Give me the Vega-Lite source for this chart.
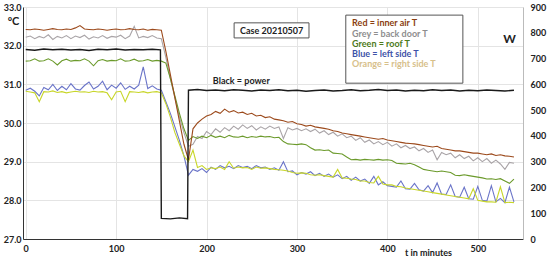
{
  "$schema": "https://vega.github.io/schema/vega-lite/v6.json",
  "width": 500,
  "height": 232,
  "autosize": "none",
  "padding": {"left": 23, "top": 7, "right": 27, "bottom": 21},
  "background": "white",
  "config": {
    "font": "Lato",
    "view": {"stroke": null},
    "axis": {"labelFont": "Lato", "labelFontWeight": "bold", "labelFontSize": 9, "labelColor": "#222", "labelOverlap": false, "titleFont": "Lato", "titleFontWeight": "bold", "titleColor": "#222", "ticks": false, "gridColor": "#e4e4e4", "gridWidth": 1}
  },
  "datasets": {
    "red": [
      {"t":0,"v":32.42},{"t":5,"v":32.41},{"t":10,"v":32.43},{"t":15,"v":32.42},{"t":20,"v":32.40},{"t":25,"v":32.42},{"t":30,"v":32.44},{"t":35,"v":32.42},{"t":40,"v":32.41},{"t":45,"v":32.43},{"t":50,"v":32.42},{"t":55,"v":32.46},{"t":60,"v":32.52},{"t":65,"v":32.43},{"t":70,"v":32.42},{"t":75,"v":32.41},{"t":80,"v":32.43},{"t":85,"v":32.42},{"t":90,"v":32.40},{"t":95,"v":32.42},{"t":100,"v":32.43},{"t":105,"v":32.41},{"t":110,"v":32.42},{"t":115,"v":32.44},{"t":120,"v":32.42},{"t":125,"v":32.41},{"t":130,"v":32.43},{"t":135,"v":32.40},{"t":140,"v":32.42},{"t":145,"v":32.41},{"t":150,"v":32.40},
      {"t":155,"v":31.85},{"t":160,"v":31.25},{"t":165,"v":30.65},{"t":170,"v":30.05},{"t":175,"v":29.45},{"t":180,"v":29.05},{"t":185,"v":29.85},{"t":190,"v":30.00},{"t":195,"v":30.10},{"t":200,"v":30.18},{"t":205,"v":30.22},{"t":210,"v":30.30},{"t":215,"v":30.25},{"t":220,"v":30.36},{"t":225,"v":30.28},{"t":230,"v":30.32},{"t":235,"v":30.26},{"t":240,"v":30.28},{"t":245,"v":30.22},{"t":250,"v":30.25},{"t":255,"v":30.18},{"t":260,"v":30.20},{"t":265,"v":30.14},{"t":270,"v":30.16},{"t":275,"v":30.10},{"t":280,"v":30.08},{"t":285,"v":30.06},{"t":290,"v":30.02},{"t":295,"v":30.04},{"t":300,"v":29.98},{"t":305,"v":29.96},{"t":310,"v":29.92},{"t":315,"v":29.94},{"t":320,"v":29.90},{"t":325,"v":29.88},{"t":330,"v":29.86},{"t":335,"v":29.84},{"t":340,"v":29.80},{"t":345,"v":29.78},{"t":350,"v":29.74},{"t":355,"v":29.72},{"t":360,"v":29.70},{"t":365,"v":29.68},{"t":370,"v":29.66},{"t":375,"v":29.64},{"t":380,"v":29.62},{"t":385,"v":29.60},{"t":390,"v":29.58},{"t":395,"v":29.60},{"t":400,"v":29.56},{"t":405,"v":29.54},{"t":410,"v":29.52},{"t":415,"v":29.50},{"t":420,"v":29.48},{"t":425,"v":29.47},{"t":430,"v":29.46},{"t":435,"v":29.44},{"t":440,"v":29.42},{"t":445,"v":29.40},{"t":450,"v":29.38},{"t":455,"v":29.40},{"t":460,"v":29.34},{"t":465,"v":29.32},{"t":470,"v":29.30},{"t":475,"v":29.28},{"t":480,"v":29.28},{"t":485,"v":29.26},{"t":490,"v":29.24},{"t":495,"v":29.22},{"t":500,"v":29.22},{"t":505,"v":29.20},{"t":510,"v":29.18},{"t":515,"v":29.20},{"t":520,"v":29.16},{"t":525,"v":29.18},{"t":530,"v":29.15},{"t":535,"v":29.14},{"t":540,"v":29.12}
    ],
    "grey": [
      {"t":0,"v":32.22},{"t":5,"v":32.25},{"t":10,"v":32.18},{"t":15,"v":32.24},{"t":20,"v":32.20},{"t":25,"v":32.28},{"t":30,"v":32.16},{"t":35,"v":32.24},{"t":40,"v":32.20},{"t":45,"v":32.26},{"t":50,"v":32.18},{"t":55,"v":32.25},{"t":60,"v":32.21},{"t":65,"v":32.27},{"t":70,"v":32.17},{"t":75,"v":32.23},{"t":80,"v":32.20},{"t":85,"v":32.26},{"t":90,"v":32.19},{"t":95,"v":32.24},{"t":100,"v":32.22},{"t":105,"v":32.27},{"t":110,"v":32.18},{"t":115,"v":32.25},{"t":120,"v":32.50},{"t":125,"v":32.20},{"t":130,"v":32.24},{"t":135,"v":32.21},{"t":140,"v":32.26},{"t":145,"v":32.20},{"t":150,"v":32.18},
      {"t":155,"v":31.70},{"t":160,"v":31.15},{"t":165,"v":30.65},{"t":170,"v":30.15},{"t":175,"v":29.75},{"t":180,"v":29.40},{"t":185,"v":29.45},{"t":190,"v":29.65},{"t":195,"v":29.60},{"t":200,"v":29.78},{"t":205,"v":29.70},{"t":210,"v":29.85},{"t":215,"v":29.76},{"t":220,"v":29.88},{"t":225,"v":29.80},{"t":230,"v":29.92},{"t":235,"v":29.84},{"t":240,"v":29.95},{"t":245,"v":29.86},{"t":250,"v":29.93},{"t":255,"v":29.82},{"t":260,"v":29.90},{"t":265,"v":29.84},{"t":270,"v":29.92},{"t":275,"v":29.86},{"t":280,"v":29.90},{"t":285,"v":29.60},{"t":290,"v":29.88},{"t":295,"v":29.82},{"t":300,"v":29.86},{"t":305,"v":29.80},{"t":310,"v":29.85},{"t":315,"v":29.78},{"t":320,"v":29.84},{"t":325,"v":29.74},{"t":330,"v":29.80},{"t":335,"v":29.70},{"t":340,"v":29.76},{"t":345,"v":29.66},{"t":350,"v":29.72},{"t":355,"v":29.62},{"t":360,"v":29.66},{"t":365,"v":29.55},{"t":370,"v":29.62},{"t":375,"v":29.50},{"t":380,"v":29.56},{"t":385,"v":29.46},{"t":390,"v":29.52},{"t":395,"v":29.44},{"t":400,"v":29.50},{"t":405,"v":29.40},{"t":410,"v":29.46},{"t":415,"v":29.36},{"t":420,"v":29.42},{"t":425,"v":29.34},{"t":430,"v":29.38},{"t":435,"v":29.28},{"t":440,"v":29.34},{"t":445,"v":29.24},{"t":450,"v":29.30},{"t":455,"v":29.05},{"t":460,"v":29.24},{"t":465,"v":29.18},{"t":470,"v":29.22},{"t":475,"v":29.10},{"t":480,"v":29.18},{"t":485,"v":29.08},{"t":490,"v":29.14},{"t":495,"v":29.02},{"t":500,"v":29.10},{"t":505,"v":29.00},{"t":510,"v":29.08},{"t":515,"v":28.96},{"t":520,"v":29.04},{"t":525,"v":28.94},{"t":530,"v":28.80},{"t":535,"v":28.98},{"t":540,"v":28.96}
    ],
    "green": [
      {"t":0,"v":31.60},{"t":5,"v":31.61},{"t":10,"v":31.66},{"t":15,"v":31.60},{"t":20,"v":31.61},{"t":25,"v":31.66},{"t":30,"v":31.60},{"t":35,"v":31.50},{"t":40,"v":31.61},{"t":45,"v":31.65},{"t":50,"v":31.60},{"t":55,"v":31.62},{"t":60,"v":31.61},{"t":65,"v":31.66},{"t":70,"v":31.60},{"t":75,"v":31.48},{"t":80,"v":31.61},{"t":85,"v":31.64},{"t":90,"v":31.60},{"t":95,"v":31.62},{"t":100,"v":31.61},{"t":105,"v":31.66},{"t":110,"v":31.60},{"t":115,"v":31.61},{"t":120,"v":31.65},{"t":125,"v":31.60},{"t":130,"v":31.61},{"t":135,"v":31.64},{"t":140,"v":31.60},{"t":145,"v":31.62},{"t":150,"v":31.60},
      {"t":155,"v":31.55},{"t":160,"v":31.15},{"t":165,"v":30.70},{"t":170,"v":30.25},{"t":175,"v":29.85},{"t":180,"v":29.55},{"t":185,"v":29.65},{"t":190,"v":29.60},{"t":195,"v":29.66},{"t":200,"v":29.62},{"t":205,"v":29.68},{"t":210,"v":29.63},{"t":215,"v":29.66},{"t":220,"v":29.62},{"t":225,"v":29.68},{"t":230,"v":29.64},{"t":235,"v":29.63},{"t":240,"v":29.66},{"t":245,"v":29.62},{"t":250,"v":29.65},{"t":255,"v":29.63},{"t":260,"v":29.66},{"t":265,"v":29.64},{"t":270,"v":29.65},{"t":275,"v":29.62},{"t":280,"v":29.63},{"t":285,"v":29.52},{"t":290,"v":29.46},{"t":295,"v":29.45},{"t":300,"v":29.44},{"t":305,"v":29.46},{"t":310,"v":29.44},{"t":315,"v":29.36},{"t":320,"v":29.30},{"t":325,"v":29.31},{"t":330,"v":29.29},{"t":335,"v":29.30},{"t":340,"v":29.22},{"t":345,"v":29.21},{"t":350,"v":29.20},{"t":355,"v":29.12},{"t":360,"v":29.05},{"t":365,"v":29.06},{"t":370,"v":29.04},{"t":375,"v":29.06},{"t":380,"v":29.05},{"t":385,"v":29.04},{"t":390,"v":29.06},{"t":395,"v":29.04},{"t":400,"v":29.05},{"t":405,"v":29.03},{"t":410,"v":28.96},{"t":415,"v":28.95},{"t":420,"v":28.94},{"t":425,"v":28.96},{"t":430,"v":28.92},{"t":435,"v":28.86},{"t":440,"v":28.80},{"t":445,"v":28.78},{"t":450,"v":28.76},{"t":455,"v":28.74},{"t":460,"v":28.76},{"t":465,"v":28.74},{"t":470,"v":28.72},{"t":475,"v":28.65},{"t":480,"v":28.64},{"t":485,"v":28.66},{"t":490,"v":28.64},{"t":495,"v":28.62},{"t":500,"v":28.60},{"t":505,"v":28.58},{"t":510,"v":28.55},{"t":515,"v":28.56},{"t":520,"v":28.54},{"t":525,"v":28.56},{"t":530,"v":28.50},{"t":535,"v":28.44},{"t":540,"v":28.55}
    ],
    "blue": [
      {"t":0,"v":30.85},{"t":5,"v":30.90},{"t":10,"v":30.82},{"t":15,"v":30.70},{"t":20,"v":30.92},{"t":25,"v":30.86},{"t":30,"v":31.00},{"t":35,"v":30.84},{"t":40,"v":30.95},{"t":45,"v":30.86},{"t":50,"v":31.02},{"t":55,"v":30.88},{"t":60,"v":30.85},{"t":65,"v":30.97},{"t":70,"v":31.06},{"t":75,"v":30.88},{"t":80,"v":30.95},{"t":85,"v":31.08},{"t":90,"v":30.86},{"t":95,"v":30.98},{"t":100,"v":30.90},{"t":105,"v":31.04},{"t":110,"v":30.87},{"t":115,"v":30.95},{"t":120,"v":30.88},{"t":125,"v":30.98},{"t":130,"v":31.45},{"t":135,"v":30.89},{"t":140,"v":30.96},{"t":145,"v":30.88},{"t":150,"v":30.85},
      {"t":155,"v":30.55},{"t":160,"v":30.25},{"t":165,"v":29.90},{"t":170,"v":29.55},{"t":175,"v":29.15},{"t":180,"v":28.65},{"t":185,"v":28.80},{"t":190,"v":28.75},{"t":195,"v":28.82},{"t":200,"v":28.72},{"t":205,"v":28.86},{"t":210,"v":28.80},{"t":215,"v":28.90},{"t":220,"v":28.84},{"t":225,"v":28.88},{"t":230,"v":28.82},{"t":235,"v":28.90},{"t":240,"v":28.85},{"t":245,"v":28.88},{"t":250,"v":28.82},{"t":255,"v":28.90},{"t":260,"v":28.84},{"t":265,"v":28.86},{"t":270,"v":28.80},{"t":275,"v":28.84},{"t":280,"v":28.78},{"t":285,"v":29.00},{"t":290,"v":28.74},{"t":295,"v":28.76},{"t":300,"v":28.66},{"t":305,"v":28.72},{"t":310,"v":28.68},{"t":315,"v":28.74},{"t":320,"v":28.64},{"t":325,"v":28.70},{"t":330,"v":28.62},{"t":335,"v":28.68},{"t":340,"v":28.60},{"t":345,"v":28.66},{"t":350,"v":28.56},{"t":355,"v":28.62},{"t":360,"v":28.52},{"t":365,"v":28.60},{"t":370,"v":28.50},{"t":375,"v":28.55},{"t":380,"v":28.44},{"t":385,"v":28.62},{"t":390,"v":28.40},{"t":395,"v":28.48},{"t":400,"v":28.38},{"t":405,"v":28.36},{"t":410,"v":28.34},{"t":415,"v":28.50},{"t":420,"v":28.30},{"t":425,"v":28.29},{"t":430,"v":28.44},{"t":435,"v":28.27},{"t":440,"v":28.24},{"t":445,"v":28.38},{"t":450,"v":28.20},{"t":455,"v":28.45},{"t":460,"v":28.16},{"t":465,"v":28.15},{"t":470,"v":28.40},{"t":475,"v":28.10},{"t":480,"v":28.08},{"t":485,"v":28.34},{"t":490,"v":28.04},{"t":495,"v":28.03},{"t":500,"v":28.36},{"t":505,"v":28.00},{"t":510,"v":27.98},{"t":515,"v":28.38},{"t":520,"v":27.96},{"t":525,"v":28.05},{"t":530,"v":27.94},{"t":535,"v":28.34},{"t":540,"v":27.96}
    ],
    "orange": [
      {"t":0,"v":30.82},{"t":5,"v":30.80},{"t":10,"v":30.78},{"t":15,"v":30.55},{"t":20,"v":30.81},{"t":25,"v":30.80},{"t":30,"v":30.83},{"t":35,"v":30.79},{"t":40,"v":30.81},{"t":45,"v":30.78},{"t":50,"v":30.80},{"t":55,"v":30.82},{"t":60,"v":30.80},{"t":65,"v":30.81},{"t":70,"v":30.79},{"t":75,"v":30.82},{"t":80,"v":30.80},{"t":85,"v":30.81},{"t":90,"v":30.78},{"t":95,"v":30.60},{"t":100,"v":30.80},{"t":105,"v":30.82},{"t":110,"v":30.55},{"t":115,"v":30.81},{"t":120,"v":30.80},{"t":125,"v":30.79},{"t":130,"v":30.81},{"t":135,"v":30.78},{"t":140,"v":30.80},{"t":145,"v":30.81},{"t":150,"v":30.78},
      {"t":155,"v":30.50},{"t":160,"v":30.15},{"t":165,"v":29.75},{"t":170,"v":29.45},{"t":175,"v":29.15},{"t":180,"v":29.00},{"t":185,"v":29.30},{"t":190,"v":28.85},{"t":195,"v":28.90},{"t":200,"v":28.80},{"t":205,"v":28.84},{"t":210,"v":28.82},{"t":215,"v":28.86},{"t":220,"v":28.80},{"t":225,"v":29.00},{"t":230,"v":28.83},{"t":235,"v":28.86},{"t":240,"v":28.84},{"t":245,"v":28.85},{"t":250,"v":28.80},{"t":255,"v":28.86},{"t":260,"v":28.83},{"t":265,"v":28.84},{"t":270,"v":28.82},{"t":275,"v":28.80},{"t":280,"v":28.79},{"t":285,"v":28.78},{"t":290,"v":28.76},{"t":295,"v":28.72},{"t":300,"v":28.70},{"t":305,"v":28.71},{"t":310,"v":28.70},{"t":315,"v":28.66},{"t":320,"v":28.65},{"t":325,"v":28.66},{"t":330,"v":28.64},{"t":335,"v":28.62},{"t":340,"v":28.60},{"t":345,"v":28.80},{"t":350,"v":28.58},{"t":355,"v":28.57},{"t":360,"v":28.55},{"t":365,"v":28.54},{"t":370,"v":28.50},{"t":375,"v":28.50},{"t":380,"v":28.46},{"t":385,"v":28.45},{"t":390,"v":28.62},{"t":395,"v":28.42},{"t":400,"v":28.40},{"t":405,"v":28.40},{"t":410,"v":28.36},{"t":415,"v":28.35},{"t":420,"v":28.32},{"t":425,"v":28.30},{"t":430,"v":28.28},{"t":435,"v":28.26},{"t":440,"v":28.24},{"t":445,"v":28.22},{"t":450,"v":28.20},{"t":455,"v":28.18},{"t":460,"v":28.16},{"t":465,"v":28.14},{"t":470,"v":28.12},{"t":475,"v":28.10},{"t":480,"v":28.08},{"t":485,"v":28.06},{"t":490,"v":28.04},{"t":495,"v":28.30},{"t":500,"v":28.00},{"t":505,"v":27.98},{"t":510,"v":27.96},{"t":515,"v":27.96},{"t":520,"v":27.95},{"t":525,"v":28.35},{"t":530,"v":27.94},{"t":535,"v":27.95},{"t":540,"v":27.94}
    ],
    "power": [
      {"t":0,"w":735},{"t":10,"w":732},{"t":20,"w":737},{"t":30,"w":734},{"t":40,"w":736},{"t":50,"w":733},{"t":60,"w":735},{"t":70,"w":731},{"t":80,"w":736},{"t":90,"w":734},{"t":100,"w":737},{"t":110,"w":733},{"t":120,"w":735},{"t":130,"w":734},{"t":140,"w":736},{"t":149,"w":734},{"t":150,"w":80},{"t":160,"w":78},{"t":170,"w":82},{"t":179,"w":79},{"t":180,"w":577},{"t":190,"w":580},{"t":200,"w":576},{"t":210,"w":578},{"t":220,"w":575},{"t":230,"w":579},{"t":240,"w":577},{"t":250,"w":574},{"t":260,"w":578},{"t":270,"w":576},{"t":280,"w":579},{"t":290,"w":575},{"t":300,"w":577},{"t":310,"w":573},{"t":320,"w":576},{"t":330,"w":578},{"t":340,"w":574},{"t":350,"w":576},{"t":360,"w":579},{"t":370,"w":575},{"t":380,"w":577},{"t":390,"w":580},{"t":400,"w":576},{"t":410,"w":578},{"t":420,"w":574},{"t":430,"w":577},{"t":440,"w":575},{"t":450,"w":579},{"t":460,"w":576},{"t":470,"w":578},{"t":480,"w":574},{"t":490,"w":577},{"t":500,"w":575},{"t":510,"w":578},{"t":520,"w":576},{"t":530,"w":574},{"t":540,"w":577}
    ]
  },
  "layer": [
    {
      "encoding": {
        "x": {"field": "t", "type": "quantitative", "scale": {"domain": [-3, 550], "nice": false}, "axis": {"values": [0,100,200,300,400,500], "grid": true, "domainColor": "#333", "labelPadding": 5, "title": "t in minutes", "titleFontSize": 9, "titleAngle": 0, "titleX": 405, "titleY": 13, "titleBaseline": "middle", "titleAlign": "center"}},
        "y": {"field": "v", "type": "quantitative", "scale": {"domain": [27, 33], "nice": false}, "axis": {"values": [27,28,29,30,31,32,33], "tickCount": 7, "labelOverlap": false, "format": ".1f", "grid": true, "domainColor": "#333", "labelPadding": 2, "title": "ºC", "titleFontSize": 11, "titleAngle": 0, "titleX": -10, "titleY": 14, "titleAlign": "center", "titleBaseline": "middle"}}
      },
      "layer": [
        {"data": {"name": "grey"}, "mark": {"type": "line", "color": "#a9a4a7", "strokeWidth": 1.1}},
        {"data": {"name": "green"}, "mark": {"type": "line", "color": "#6b9a2b", "strokeWidth": 1.1}},
        {"data": {"name": "blue"}, "mark": {"type": "line", "color": "#6a74c8", "strokeWidth": 1.1}},
        {"data": {"name": "orange"}, "mark": {"type": "line", "color": "#c8d62a", "strokeWidth": 1.1}},
        {"data": {"name": "red"}, "mark": {"type": "line", "color": "#9c4a1c", "strokeWidth": 1.1}}
      ]
    },
    {
      "data": {"values": [{}]},
      "layer": [
        {"mark": {"type": "rect", "fill": "white", "stroke": "#555", "strokeWidth": 1},
         "encoding": {"x": {"datum": 354}, "x2": {"datum": 483.5}, "y": {"datum": 32.79, "scale": {"domain": [27, 33], "nice": false}, "axis": null}, "y2": {"datum": 31.03}}},
        {"mark": {"type": "rect", "fill": "white", "stroke": "#555", "strokeWidth": 1},
         "encoding": {"x": {"datum": 230.5}, "x2": {"datum": 313.3}, "y": {"datum": 32.59, "scale": {"domain": [27, 33], "nice": false}, "axis": null}, "y2": {"datum": 32.2}}},
        {"mark": {"type": "text", "align": "center", "baseline": "middle", "fontWeight": "bold", "fontSize": 9, "color": "#222"},
         "encoding": {"x": {"datum": 272}, "y": {"datum": 32.39, "scale": {"domain": [27, 33], "nice": false}, "axis": null}, "text": {"value": "Case 20210507"}}},
        {"mark": {"type": "text", "align": "left", "baseline": "middle", "fontWeight": "bold", "fontSize": 9, "color": "#222"},
         "encoding": {"x": {"datum": 207}, "y": {"datum": 31.09, "scale": {"domain": [27, 33], "nice": false}, "axis": null}, "text": {"value": "Black = power"}}},
        {"mark": {"type": "text", "align": "left", "baseline": "middle", "fontWeight": "bold", "fontSize": 9, "color": "#8b4010"},
         "encoding": {"x": {"datum": 361}, "y": {"datum": 32.58, "scale": {"domain": [27, 33], "nice": false}, "axis": null}, "text": {"value": "Red = inner air T"}}},
        {"mark": {"type": "text", "align": "left", "baseline": "middle", "fontWeight": "bold", "fontSize": 9, "color": "#8e8e8e"},
         "encoding": {"x": {"datum": 361}, "y": {"datum": 32.3, "scale": {"domain": [27, 33], "nice": false}, "axis": null}, "text": {"value": "Grey = back door T"}}},
        {"mark": {"type": "text", "align": "left", "baseline": "middle", "fontWeight": "bold", "fontSize": 9, "color": "#4d7a1a"},
         "encoding": {"x": {"datum": 361}, "y": {"datum": 32.04, "scale": {"domain": [27, 33], "nice": false}, "axis": null}, "text": {"value": "Green = roof T"}}},
        {"mark": {"type": "text", "align": "left", "baseline": "middle", "fontWeight": "bold", "fontSize": 9, "color": "#3d52a8"},
         "encoding": {"x": {"datum": 361}, "y": {"datum": 31.78, "scale": {"domain": [27, 33], "nice": false}, "axis": null}, "text": {"value": "Blue = left side T"}}},
        {"mark": {"type": "text", "align": "left", "baseline": "middle", "fontWeight": "bold", "fontSize": 9, "color": "#d7c08a"},
         "encoding": {"x": {"datum": 361}, "y": {"datum": 31.53, "scale": {"domain": [27, 33], "nice": false}, "axis": null}, "text": {"value": "Orange = right side T"}}}
      ]
    },
    {
      "data": {"name": "power"},
      "mark": {"type": "line", "color": "#1a1a1a", "strokeWidth": 1.4},
      "encoding": {
        "x": {"field": "t", "type": "quantitative"},
        "y": {"field": "w", "type": "quantitative", "scale": {"domain": [0, 900], "nice": false}, "axis": {"orient": "right", "values": [0,100,200,300,400,500,600,700,800,900], "grid": false, "domainColor": "#bbb", "labelPadding": 7, "title": "W", "titleFontSize": 12, "titleAngle": 0, "titleX": -14, "titleY": 31, "titleAlign": "center", "titleBaseline": "middle"}}
      }
    }
  ],
  "resolve": {"scale": {"y": "independent"}}
}
